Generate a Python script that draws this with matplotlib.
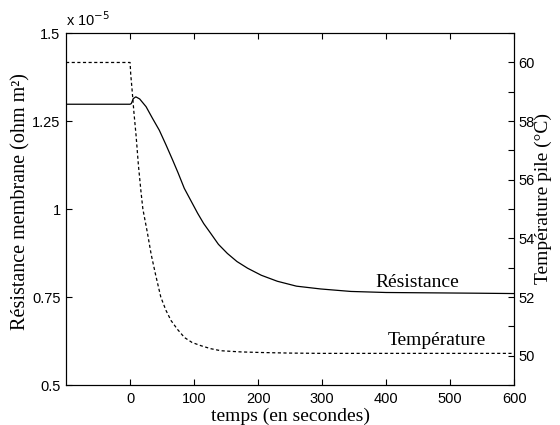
import matplotlib
matplotlib.use("Agg")
import matplotlib.pyplot as plt

# Data
t_res = [-100, 0, 2, 5, 9, 15, 25, 35, 45.7, 56, 66.6, 75, 84.7, 95, 105.6, 115, 126, 138, 152, 167,
         183.6, 205, 230, 260, 298, 345, 400, 470, 542, 600]
res_e5 = [1.298, 1.298, 1.300, 1.314, 1.319, 1.313, 1.291, 1.258, 1.224, 1.183, 1.139, 1.103, 1.059,
          1.024, 0.988, 0.959, 0.931, 0.900, 0.874, 0.851, 0.832, 0.812, 0.795, 0.781, 0.773, 0.766,
          0.763, 0.762, 0.761, 0.760]

t_temp = [-100, 0, 1, 3, 6, 9.4, 13, 17, 20, 27, 33, 40, 48, 56, 64, 74, 85, 97, 111, 126, 142, 173,
          204, 250, 300, 600]
temp = [60.0, 60.0, 59.6, 59.1, 58.3, 57.5, 56.5, 55.6, 55.0, 54.2, 53.45, 52.75, 52.0, 51.55, 51.2,
        50.9, 50.62, 50.45, 50.34, 50.24, 50.17, 50.13, 50.11, 50.09, 50.08, 50.08]

left_ticks = [0.5, 0.75, 1.0, 1.25, 1.5]
left_labels = ['0.5', '0.75', '1', '1.25', '1.5']
x_ticks = [0, 100, 200, 300, 400, 500, 600]
right_ticks = list(range(49, 62))
right_labels = [str(v) if v % 2 == 0 else '' for v in right_ticks]

serif = 'Liberation Serif'
sans = 'Liberation Sans'
tick_fs = 10.5

fig = plt.figure(figsize=(5.6, 4.25), dpi=100)
ax = fig.add_axes([0.118, 0.094, 0.800, 0.828])
ax2 = ax.twinx()

ax.plot(t_res, res_e5, color='black', lw=0.9)
ax2.plot(t_temp, temp, color='black', lw=0.9, ls=(0, (2.5, 2)))

ax.set_xlim(-100, 600)
ax.set_ylim(0.5, 1.5)
ax2.set_ylim(49, 61)

ax.set_xticks(x_ticks)
ax.set_xticklabels([str(v) for v in x_ticks], fontfamily=sans, fontsize=tick_fs)
ax.set_yticks(left_ticks)
ax.set_yticklabels(left_labels, fontfamily=sans, fontsize=tick_fs)
ax2.set_yticks(right_ticks)
ax2.set_yticklabels(right_labels, fontfamily=sans, fontsize=tick_fs)

ax.tick_params(axis='x', direction='in', length=4, top=True, width=0.8, pad=5)
ax.tick_params(axis='y', direction='in', length=4, width=0.8, right=False, pad=4)
ax2.tick_params(axis='y', direction='in', length=4, width=0.8, pad=3)

for a in (ax, ax2):
    for s in a.spines.values():
        s.set_linewidth(0.8)

ax.set_xlabel('temps (en secondes)', fontfamily=serif, fontsize=14, labelpad=1)
ax.set_ylabel('Résistance membrane (ohm m²)', fontfamily=serif, fontsize=14.5)
ax.yaxis.set_label_coords(-0.080, 0.52)
ax2.set_ylabel('Température pile (°C)', fontfamily=serif, fontsize=14)
ax2.yaxis.set_label_coords(1.045, 0.53)

ax.text(0.0, 1.012, r'x 10$^{-5}$', transform=ax.transAxes, fontfamily=sans, fontsize=tick_fs,
        ha='left', va='bottom')

ax.text(448, 0.79, 'Résistance', fontfamily=serif, fontsize=14, ha='center', va='center')
ax.text(479, 0.628, 'Température', fontfamily=serif, fontsize=14, ha='center', va='center')

fig.savefig('out.png', dpi=100)
